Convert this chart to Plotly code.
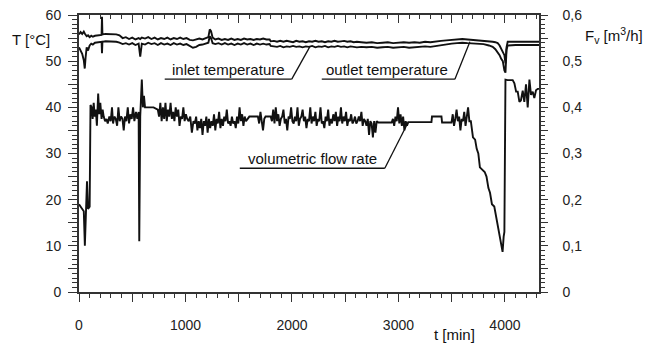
import plotly.graph_objects as go

# ---------------- data ----------------
temp_t = [0, 15, 30, 45, 54, 62, 72, 85, 100, 115, 130, 150, 175, 200, 212, 216, 220, 250, 300, 350,
          380, 410, 440, 470, 500, 530, 560, 575, 590, 620, 650, 680, 710, 740, 770, 800, 830, 860, 890, 920,
          950, 980, 1010, 1040, 1070, 1100, 1130, 1160, 1190, 1215, 1228, 1240, 1255, 1280, 1310, 1340, 1370, 1400, 1430, 1460,
          1490, 1520, 1550, 1580, 1610, 1640, 1670, 1700, 1730, 1760, 1790, 1800, 1830, 1860, 1890, 1920, 1950, 1980, 2010, 2040,
          2070, 2100, 2130, 2160, 2190, 2220, 2250, 2280, 2310, 2340, 2370, 2400, 2430, 2460, 2490, 2520, 2550, 2580, 2610, 2650,
          2700, 2750, 2800, 2850, 2900, 2950, 3000, 3050, 3100, 3150, 3200, 3250, 3300, 3350, 3400, 3450, 3500, 3550, 3600, 3650,
          3700, 3750, 3800, 3850, 3885, 3910, 3932, 3950, 3965, 3980, 3995, 4005, 4015, 4026, 4100, 4200, 4320]

temp_outlet = [55.8, 56.3, 55.9, 56.4, 56.0, 55.7, 55.4, 55.6, 55.2, 55.5, 55.3, 55.5, 55.6, 55.7, 55.7, 59.6, 55.8, 55.9, 55.9, 55.8,
               55.6, 55.0, 55.2, 54.8, 55.1, 54.7, 55.0, 54.8, 55.1, 54.9, 55.2, 54.8, 55.1, 54.7, 55.0, 54.8, 55.1, 54.7, 55.0, 54.8,
               55.1, 54.8, 55.0, 54.6, 54.5, 54.7, 54.9, 54.7, 55.0, 55.2, 56.9, 56.5, 55.1, 54.7, 54.9, 54.6, 54.8, 54.6, 54.9, 54.6,
               54.8, 54.6, 54.9, 54.7, 54.8, 54.6, 54.8, 54.7, 54.9, 54.7, 54.7, 54.3, 54.4, 54.2, 54.4, 54.2, 54.4, 54.3, 54.1, 54.4,
               54.2, 54.3, 54.1, 54.3, 54.2, 54.4, 54.2, 54.3, 54.1, 54.3, 54.2, 54.4, 54.2, 54.3, 54.4, 54.2, 54.3, 54.1, 54.2, 54.1,
               54.0, 54.1, 53.9, 54.0, 54.1, 53.9, 54.0, 54.1, 54.0, 54.1, 54.0, 54.2, 54.1, 54.3, 54.4, 54.5, 54.6, 54.7, 54.8, 54.7,
               54.6, 54.6, 54.5, 54.3, 54.2, 54.1, 53.9, 53.4, 52.8, 52.0, 51.3, 49.5, 53.0, 54.2, 54.2, 54.2, 54.2]

temp_inlet = [53.0, 52.4, 51.6, 50.2, 48.4, 50.8, 53.0, 52.3, 53.4, 53.8, 53.6, 54.0, 54.1, 54.2, 54.2, 51.7, 54.2, 54.3, 54.3, 54.2,
              54.0, 53.7, 53.9, 53.6, 53.9, 53.5, 53.8, 51.0, 53.8, 53.6, 54.0, 53.7, 53.9, 53.5, 53.9, 53.6, 53.8, 53.5, 53.9, 53.6,
              53.8, 53.5, 53.7, 53.3, 52.9, 53.1, 53.5, 53.6, 53.8, 54.0, 55.4, 55.0, 53.9, 53.7, 53.9, 53.6, 53.9, 53.6, 53.8, 53.5,
              53.8, 53.6, 53.9, 53.6, 53.8, 53.5, 53.8, 53.6, 53.8, 53.6, 53.7, 53.3, 53.2, 53.1, 53.3, 53.0, 53.2, 53.1, 53.3, 53.1,
              53.2, 53.0, 53.2, 53.1, 53.3, 53.0, 53.2, 53.1, 53.3, 53.0, 53.2, 53.1, 53.3, 53.1, 53.2, 53.0, 53.2, 53.1, 53.0, 53.1,
              53.0, 53.1, 52.9, 53.0, 53.1, 52.9, 53.0, 53.1, 52.9, 53.0, 53.1, 53.2, 53.1, 53.3, 53.5, 53.6, 53.8, 53.9, 54.0, 53.9,
              53.8, 53.8, 53.7, 53.4, 53.1, 52.6, 52.0, 51.3, 50.5, 50.0, 48.0, 47.5, 52.5, 53.4, 53.5, 53.5, 53.5]

flow_t = [0, 15, 30, 45, 55, 65, 75, 85, 100, 108, 118, 128, 138, 148, 158, 168, 180, 190, 200, 212,
          222, 232, 245, 258, 270, 285, 298, 310, 320, 332, 345, 358, 370, 382, 395, 408, 420, 432, 445, 458,
          470, 482, 495, 508, 520, 535, 548, 560, 566, 575, 590, 600, 610, 620, 700, 740, 752, 764, 776, 788,
          800, 812, 824, 836, 848, 860, 872, 884, 896, 908, 920, 932, 944, 956, 968, 980, 992, 1004, 1016, 1030,
          1045, 1060, 1075, 1088, 1100, 1112, 1124, 1136, 1148, 1160, 1172, 1184, 1196, 1208, 1220, 1232, 1244, 1256, 1268, 1280,
          1292, 1304, 1316, 1328, 1340, 1352, 1364, 1376, 1388, 1400, 1412, 1424, 1436, 1448, 1460, 1472, 1484, 1496, 1508, 1520,
          1532, 1544, 1556, 1568, 1580, 1600, 1640, 1680, 1692, 1704, 1716, 1728, 1740, 1752, 1800, 1812, 1824, 1836, 1848, 1860,
          1872, 1884, 1896, 1908, 1920, 1932, 1944, 1956, 1968, 1980, 1992, 2004, 2016, 2028, 2040, 2052, 2064, 2076, 2088, 2100,
          2112, 2124, 2136, 2148, 2160, 2172, 2184, 2196, 2208, 2220, 2232, 2244, 2256, 2268, 2280, 2292, 2304, 2316, 2328, 2340,
          2352, 2364, 2376, 2388, 2400, 2412, 2424, 2436, 2448, 2460, 2472, 2484, 2496, 2508, 2520, 2532, 2544, 2556, 2568, 2580,
          2592, 2604, 2616, 2628, 2640, 2652, 2664, 2676, 2688, 2700, 2712, 2724, 2736, 2748, 2760, 2772, 2784, 2796, 2811, 2936,
          2948, 2960, 2972, 2984, 2996, 3008, 3020, 3032, 3044, 3056, 3068, 3080, 3092, 3310, 3315, 3404, 3410, 3498, 3510, 3522,
          3534, 3546, 3558, 3570, 3582, 3594, 3606, 3618, 3630, 3642, 3654, 3666, 3680, 3700, 3720, 3735, 3750, 3765, 3790, 3810,
          3827, 3845, 3860, 3878, 3900, 3915, 3936, 3955, 3967, 3978, 3988, 3995, 4005, 4026, 4073, 4089, 4105, 4120, 4136, 4150,
          4167, 4182, 4198, 4214, 4230, 4245, 4261, 4276, 4292, 4308, 4320]

flow_v = [0.19, 0.185, 0.18, 0.175, 0.10, 0.17, 0.24, 0.18, 0.185, 0.405, 0.40, 0.375, 0.41, 0.38, 0.395, 0.36, 0.43, 0.385, 0.41, 0.375,
          0.395, 0.38, 0.37, 0.375, 0.365, 0.38, 0.37, 0.40, 0.365, 0.38, 0.375, 0.36, 0.40, 0.37, 0.38, 0.375, 0.35, 0.38, 0.37, 0.40,
          0.365, 0.385, 0.375, 0.40, 0.37, 0.39, 0.375, 0.39, 0.11, 0.38, 0.46, 0.40, 0.425, 0.40, 0.40, 0.395, 0.38, 0.41, 0.37, 0.40,
          0.375, 0.41, 0.37, 0.395, 0.38, 0.41, 0.375, 0.39, 0.37, 0.40, 0.38, 0.395, 0.36, 0.38, 0.375, 0.40, 0.37, 0.385, 0.375, 0.37,
          0.38, 0.345, 0.37, 0.365, 0.38, 0.35, 0.37, 0.355, 0.375, 0.34, 0.37, 0.36, 0.38, 0.345, 0.375, 0.355, 0.37, 0.36, 0.385, 0.35,
          0.375, 0.365, 0.39, 0.355, 0.375, 0.36, 0.38, 0.37, 0.395, 0.365, 0.37, 0.36, 0.38, 0.365, 0.37, 0.355, 0.38, 0.365, 0.40, 0.37,
          0.385, 0.36, 0.38, 0.37, 0.375, 0.38, 0.38, 0.38, 0.365, 0.39, 0.37, 0.35, 0.375, 0.38, 0.38, 0.37, 0.395, 0.365, 0.40, 0.37,
          0.385, 0.36, 0.375, 0.38, 0.395, 0.365, 0.375, 0.35, 0.38, 0.375, 0.40, 0.37, 0.365, 0.38, 0.37, 0.40, 0.36, 0.375, 0.38, 0.395,
          0.37, 0.38, 0.355, 0.375, 0.37, 0.40, 0.365, 0.38, 0.37, 0.39, 0.36, 0.375, 0.37, 0.40, 0.365, 0.37, 0.355, 0.38, 0.37, 0.395,
          0.36, 0.375, 0.365, 0.385, 0.37, 0.39, 0.36, 0.38, 0.37, 0.40, 0.365, 0.38, 0.37, 0.39, 0.36, 0.375, 0.37, 0.385, 0.365, 0.37,
          0.38, 0.365, 0.37, 0.38, 0.37, 0.39, 0.36, 0.375, 0.37, 0.36, 0.375, 0.34, 0.37, 0.365, 0.335, 0.37, 0.345, 0.37, 0.367, 0.367,
          0.375, 0.36, 0.38, 0.37, 0.40, 0.365, 0.385, 0.36, 0.38, 0.35, 0.37, 0.36, 0.368, 0.368, 0.38, 0.38, 0.367, 0.367, 0.385, 0.36,
          0.375, 0.395, 0.37, 0.38, 0.35, 0.375, 0.37, 0.39, 0.36, 0.38, 0.40, 0.37, 0.37, 0.335, 0.33, 0.31, 0.30, 0.27, 0.265, 0.26,
          0.25, 0.225, 0.215, 0.19, 0.185, 0.165, 0.14, 0.12, 0.10, 0.087, 0.12, 0.13, 0.46, 0.459, 0.459, 0.452, 0.434, 0.434, 0.412, 0.415,
          0.436, 0.412, 0.45, 0.40, 0.46, 0.427, 0.434, 0.42, 0.437, 0.44, 0.44]

x_tickvals = [0, 500, 1000, 1500, 2000, 2500, 3000, 3500, 4000]
x_ticktext = ["0", "", "1000", "", "2000", "", "3000", "", "4000"]
yl_tickvals = [0, 5, 10, 15, 20, 25, 30, 35, 40, 45, 50, 55, 60]
yl_ticktext = ["0", "", "10", "", "20", "", "30", "", "40", "", "50", "", "60"]
yr_tickvals = [0, 0.05, 0.1, 0.15, 0.2, 0.25, 0.3, 0.35, 0.4, 0.45, 0.5, 0.55, 0.6]
yr_ticktext = ["0", "", "0,1", "", "0,2", "", "0,3", "", "0,4", "", "0,5", "", "0,6"]

# ---------------- figure ----------------
FONT = "Liberation Sans, Arial, sans-serif"
LINE = dict(color="#111111", width=1.9)
AX = "#333333"

fig = go.Figure()
fig.add_trace(go.Scatter(x=temp_t, y=temp_outlet, mode="lines", line=LINE, name="outlet temperature"))
fig.add_trace(go.Scatter(x=temp_t, y=temp_inlet, mode="lines", line=LINE, name="inlet temperature"))
fig.add_trace(go.Scatter(x=flow_t, y=flow_v, mode="lines", line=LINE, name="volumetric flow rate", yaxis="y2"))
# dummy trace to attach top axis
fig.add_trace(go.Scatter(x=[0], y=[None], xaxis="x2", mode="lines", showlegend=False, hoverinfo="skip"))

tickfont = dict(family=FONT, size=14, color="#222222")

fig.update_layout(
    width=654, height=345,
    margin=dict(l=79, r=115, t=15, b=53, autoexpand=False),
    paper_bgcolor="white", plot_bgcolor="white",
    showlegend=False,
    xaxis=dict(range=[0, 4320], tickmode="array", tickvals=x_tickvals, ticktext=x_ticktext,
               ticks="outside", ticklen=8, tickwidth=1.2, tickcolor=AX,
               minor=dict(dtick=100, tick0=0, ticks="outside", ticklen=4, tickwidth=1, tickcolor=AX),
               showline=True, linecolor=AX, linewidth=1.5, showgrid=False, zeroline=False,
               tickfont=tickfont, ticklabelstandoff=11, automargin=False),
    xaxis2=dict(range=[0, 4320], overlaying="x", side="top", tickmode="array", tickvals=x_tickvals,
                showticklabels=False, ticks="inside", ticklen=8, tickwidth=1.2, tickcolor=AX,
                minor=dict(dtick=100, tick0=0, ticks="inside", ticklen=4, tickwidth=1, tickcolor=AX),
                showline=True, linecolor=AX, linewidth=1.5, showgrid=False, zeroline=False, automargin=False),
    yaxis=dict(range=[0, 60], tickmode="array", tickvals=yl_tickvals, ticktext=yl_ticktext,
               ticks="outside", ticklen=9, tickwidth=1.2, tickcolor=AX,
               minor=dict(dtick=1, tick0=0, ticks="outside", ticklen=5, tickwidth=1, tickcolor=AX),
               showline=True, linecolor=AX, linewidth=2, showgrid=False, zeroline=False,
               tickfont=tickfont, ticklabelstandoff=4, automargin=False),
    yaxis2=dict(range=[0, 0.6], overlaying="y", side="right", tickmode="array", tickvals=yr_tickvals, ticktext=yr_ticktext,
                ticks="outside", ticklen=7, tickwidth=1.2, tickcolor=AX,
                minor=dict(dtick=0.01, tick0=0, ticks="outside", ticklen=4, tickwidth=1, tickcolor=AX),
                showline=True, linecolor=AX, linewidth=1.5, showgrid=False, zeroline=False,
                tickfont=tickfont, ticklabelstandoff=12, automargin=False),
)

# axis titles
title_font = dict(family=FONT, size=15, color="#111111")
fig.add_annotation(text="T [°C]", xref="paper", yref="paper", x=-0.104, y=0.913,
                   xanchor="center", yanchor="middle", showarrow=False, font=title_font)
fig.add_annotation(text="F<sub>v</sub> [m<sup>3</sup>/h]", xref="paper", yref="paper", x=1.163, y=0.925,
                   xanchor="center", yanchor="middle", showarrow=False, font=title_font)
fig.add_annotation(text="t [min]", xref="paper", yref="paper", x=0.817, y=-0.152,
                   xanchor="center", yanchor="middle", showarrow=False, font=title_font)

# series labels with underline and leader line
lab_font = dict(family=FONT, size=15, color="#111111")
labels = [
    ("inlet temperature", 1402, 48.3, 805, 1998, 46.1, 2167, 53.1),
    ("outlet temperature", 2896, 48.3, 2280, 3530, 46.1, 3671, 54.2),
    ("volumetric flow rate", 2191, 29.0, 1510, 2872, 26.8, 3088, 36.6),
]
for txt, tx, ty, u0, u1, uy, lx, ly in labels:
    fig.add_annotation(text=txt, x=tx, y=ty, xref="x", yref="y", xanchor="center", yanchor="middle",
                       showarrow=False, font=lab_font)
    fig.add_shape(type="line", x0=u0, x1=u1, y0=uy, y1=uy, xref="x", yref="y",
                  line=dict(color="#111111", width=1.3))
    fig.add_shape(type="line", x0=u1, x1=lx, y0=uy, y1=ly, xref="x", yref="y",
                  line=dict(color="#111111", width=1.3))

fig.write_html("out.html")
